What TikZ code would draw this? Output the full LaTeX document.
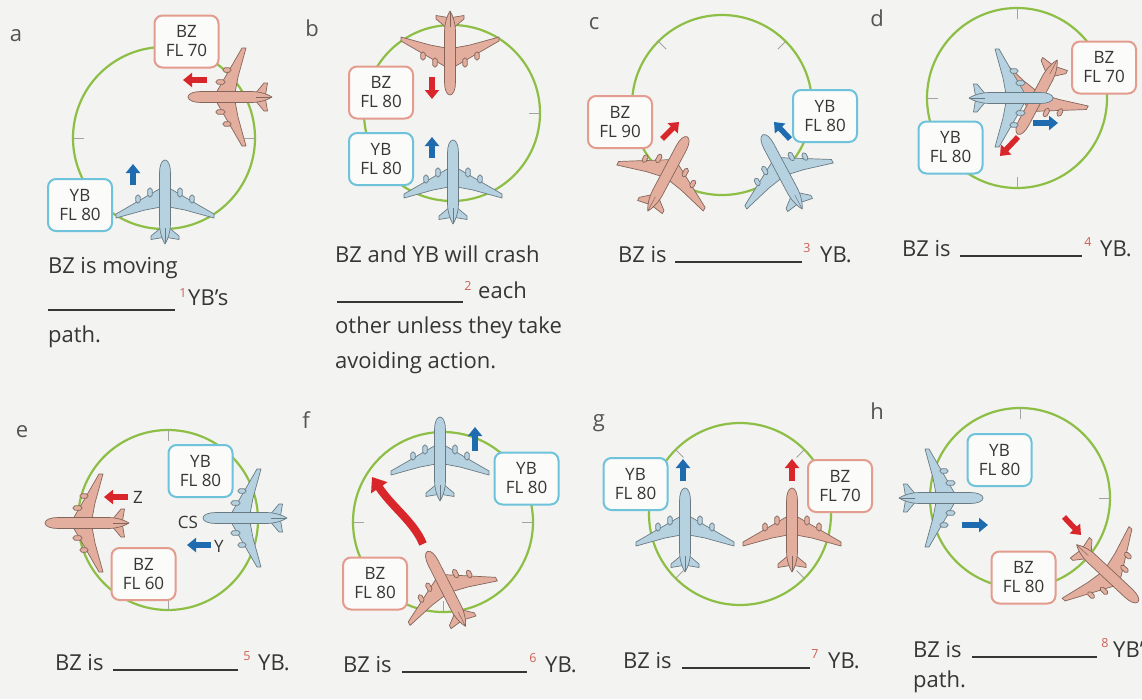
\documentclass[tikz,border=0pt]{standalone}
\usepackage{fontspec}
\setmainfont{Open Sans}
\usetikzlibrary{arrows.meta}

\definecolor{bg}{HTML}{F3F3F1}
\definecolor{ring}{HTML}{8DBE45}
\definecolor{tickc}{HTML}{A3A3A0}
\definecolor{ybfill}{HTML}{B6D2E1}
\definecolor{bzfill}{HTML}{E3AE9D}
\definecolor{ybline}{HTML}{6EC3DA}
\definecolor{bzline}{HTML}{E39C8D}
\definecolor{arrred}{HTML}{D8262B}
\definecolor{arrblue}{HTML}{1F6BAF}
\definecolor{txtc}{HTML}{363636}
\definecolor{supc}{HTML}{CF5F55}
\definecolor{boxfill}{HTML}{FBFBFA}

\newcommand\bodyfont{\fontsize{22}{26}\selectfont}
\newcommand\boxfont{\fontsize{17}{19}\selectfont}
\newcommand\supfont{\fontsize{12.5}{13}\selectfont}

\tikzset{
  x=1pt, y=-1pt,
  pl/.style={fill=#1, draw=#1!58!black, line width=0.7pt, line join=round},
  pics/plane/.style={code={
    \foreach \s in {1,-1}{
      \begin{scope}[xscale=\s]
        % swept wing
        \path[pl=#1] (4,-13) -- (49,13) -- (49,17) -- (20,9) -- (4,6) -- cycle;
        % engines
        \path[pl=#1, rounded corners=1.8pt] (12.8,-13) rectangle (17.2,-4);
        \path[pl=#1, rounded corners=1.8pt] (24.8,-6) rectangle (29.2,2);
        % tailplane
        \path[pl=#1] (2,25) -- (14,35) -- (14,38.5) -- (2,36.5) -- cycle;
      \end{scope}
    }
    % fuselage
    \path[pl=#1] (0,-41) .. controls (3.5,-41) and (5.5,-35) .. (5.5,-28)
      -- (5.5,22) .. controls (5.5,32) and (2,40) .. (0,43)
      .. controls (-2,40) and (-5.5,32) .. (-5.5,22)
      -- (-5.5,-28) .. controls (-5.5,-35) and (-3.5,-41) .. (0,-41) -- cycle;
    \draw[#1!58!black, line width=0.5pt] (0,27) -- (0,42);
  }},
  ringc/.style={draw=ring, line width=2.2pt},
  tick/.style={draw=tickc, line width=1pt},
  tag/.style={draw=#1, line width=2pt, rounded corners=8pt, fill=boxfill,
    minimum width=64pt, minimum height=52pt, align=center, font=\boxfont,
    text=txtc, inner sep=0pt},
  barrow/.style={draw=#1, line width=5.5pt, -{Triangle[width=14pt,length=9pt]}},
  words/.style={font=\bodyfont, text=txtc, inner sep=0pt, anchor=base west},
  letter/.style={font=\bodyfont, text=txtc!85, inner sep=0pt},
  sup/.style={font=\supfont, text=supc, inner sep=0pt},
  blank/.style={draw=txtc, line width=1.1pt},
}

\begin{document}
\begin{tikzpicture}
\useasboundingbox (0,0) rectangle (1142,699);
\clip (0,0) rectangle (1142,699);
\fill[bg] (0,0) rectangle (1142,699);

% ---------- radar rings ----------
\draw[ringc] (164,138) circle[radius=91];
\foreach \a in {0,90,180,270} \draw[tick, shift={(164,138)}] (\a:80) -- (\a:91);
\draw[ringc] (452,113) circle[radius=88];
\foreach \a in {0,90,180,270} \draw[tick, shift={(452,113)}] (\a:77) -- (\a:88);
\draw[ringc] (722,105) circle[radius=90];
\foreach \a in {45,135,225,315} \draw[tick, shift={(722,105)}] (\a:79) -- (\a:90);
\draw[ringc] (1017,98) circle[radius=90];
\foreach \a in {90,180,270} \draw[tick, shift={(1017,98)}] (\a:79) -- (\a:90);
\draw[ringc] (168,520) circle[radius=90];
\foreach \a in {90,270} \draw[tick, shift={(168,520)}] (\a:79) -- (\a:90);
\draw[ringc] (443,522) circle[radius=90];
\foreach \a in {0,90,180,270} \draw[tick, shift={(443,522)}] (\a:79) -- (\a:90);
\draw[ringc] (740,514) circle[radius=91];
\foreach \a in {45,135,225,315} \draw[tick, shift={(740,514)}] (\a:80) -- (\a:91);
\draw[ringc] (1020,498) circle[radius=90];
\foreach \a in {0,90,180,270} \draw[tick, shift={(1020,498)}] (\a:79) -- (\a:90);

% ---------- aircraft ----------
\pic[rotate=90] at (229,97) {plane=bzfill};
\pic at (165,201) {plane=ybfill};
\pic[rotate=180] at (450,54) {plane=bzfill};
\pic at (453,181) {plane=ybfill};
\pic[rotate=-28] at (668,173) {plane=bzfill};
\pic[rotate=28] at (782,171) {plane=ybfill};
\pic[rotate=152] at (1037,98) {plane=bzfill};
\pic[rotate=-90] at (1012,98) {plane=ybfill};
\pic[rotate=90] at (86,523) {plane=bzfill};
\pic[rotate=90] at (244,518) {plane=ybfill};
\pic at (440,458) {plane=ybfill};
\pic[rotate=27] at (446,588) {plane=bzfill};
\pic at (685,529) {plane=ybfill};
\pic at (792,529) {plane=bzfill};
\pic[rotate=-90] at (942,498) {plane=ybfill};
\pic[rotate=-133] at (1108,574) {plane=bzfill};

% ---------- flight tags ----------
\node[tag=bzline] (aBZ) at (186.5,41.5) {BZ\\FL 70};
\node[tag=ybline] (aYB) at (80,205) {YB\\FL 80};
\node[tag=bzline] (bBZ) at (381,92.5) {BZ\\FL 80};
\node[tag=ybline] (bYB) at (381,159) {YB\\FL 80};
\node[tag=bzline] (cBZ) at (620,122) {BZ\\FL 90};
\node[tag=ybline] (cYB) at (825,116) {YB\\FL 80};
\node[tag=bzline] (dBZ) at (1104,67.5) {BZ\\FL 70};
\node[tag=ybline] (dYB) at (950.5,147.5) {YB\\FL 80};
\node[tag=ybline] (eYB) at (200.5,471) {YB\\FL 80};
\node[tag=bzline] (eBZ) at (143.5,574) {BZ\\FL 60};
\node[tag=ybline] (fYB) at (526.5,478.5) {YB\\FL 80};
\node[tag=bzline] (fBZ) at (375,583.5) {BZ\\FL 80};
\node[tag=ybline] (gYB) at (635.5,484) {YB\\FL 80};
\node[tag=bzline] (gBZ) at (840,486) {BZ\\FL 70};
\node[tag=ybline] (hYB) at (999.5,460) {YB\\FL 80};
\node[tag=bzline] (hBZ) at (1023.5,577.5) {BZ\\FL 80};

% ---------- heading arrows ----------
\draw[barrow=arrred] (207,80) -- (183,80);
\draw[barrow=arrblue] (133,185) -- (133,164);
\draw[barrow=arrred] (432,77) -- (432,99);
\draw[barrow=arrblue] (432,158) -- (432,137);
\draw[barrow=arrred] (662,139) -- (679,122);
\draw[barrow=arrblue] (790,139) -- (774,122);
\draw[barrow=arrblue] (1033,123) -- (1058,123);
\draw[barrow=arrred] (1018,137) -- (1000,156);
\draw[barrow=arrred] (128,497) -- (104,497);
\draw[barrow=arrblue] (211,545) -- (187,545);
\draw[barrow=arrblue] (475,451) -- (475,427);
\draw[draw=arrred, line width=8pt, -{Triangle[width=19pt,length=13pt]}]
  (423,544) .. controls (414,522) and (393,508) .. (372,477);
\draw[barrow=arrblue] (683,481) -- (683,459);
\draw[barrow=arrred] (792,481) -- (792,459);
\draw[barrow=arrblue] (962,525) -- (988,525);
\draw[barrow=arrred] (1064,517) -- (1081,535);

\node[font=\boxfont, text=txtc, inner sep=0pt] (eZ) at (138,497) {Z};
\node[font=\boxfont, text=txtc, inner sep=0pt] (eY) at (219,546) {Y};
\node[font=\boxfont, text=txtc, inner sep=0pt] (eCS) at (188,522) {CS};

% ---------- panel letters ----------
\node[letter] (la) at (16,36) {a};
\node[letter] (lb) at (312,28) {b};
\node[letter] (lc) at (594,24) {c};
\node[letter] (ld) at (877,18) {d};
\node[letter] (le) at (22,432) {e};
\node[letter] (lf) at (306,420) {f};
\node[letter] (lg) at (599,423) {g};
\node[letter] (lh) at (877,411) {h};

% ---------- sentences ----------
\node[words] (ta1) at (48,273) {BZ is moving};
\draw[blank] (48,310) -- (175,310);
\node[sup] (sa) at (183,293) {1};
\node[words] (ta2) at (188,305) {YB’s};
\node[words] (ta3) at (48,342) {path.};

\node[words] (tb1) at (335,262) {BZ and YB will crash};
\draw[blank] (337,302) -- (463,302);
\node[sup] (sb) at (468,286) {2};
\node[words] (tb2) at (478,298) {each};
\node[words] (tb3) at (335,333) {other unless they take};
\node[words] (tb4) at (335,368) {avoiding action.};

\node[words] (tc1) at (618,262) {BZ is};
\draw[blank] (675,262) -- (802,262);
\node[sup] (sc) at (807,248) {3};
\node[words] (tc2) at (820,262) {YB.};

\node[words] (td1) at (902,256) {BZ is};
\draw[blank] (960,256) -- (1082,256);
\node[sup] (sd) at (1088,242) {4};
\node[words] (td2) at (1100,256) {YB.};

\node[words] (te1) at (55,670) {BZ is};
\draw[blank] (113,670) -- (238,670);
\node[sup] (se) at (247,656) {5};
\node[words] (te2) at (258,670) {YB.};

\node[words] (tf1) at (343,672) {BZ is};
\draw[blank] (402,672) -- (527,672);
\node[sup] (sf) at (533,658) {6};
\node[words] (tf2) at (545,672) {YB.};

\node[words] (tg1) at (623,668) {BZ is};
\draw[blank] (682,668) -- (810,668);
\node[sup] (sg) at (815,654) {7};
\node[words] (tg2) at (828,668) {YB.};

\node[words] (th1) at (913,657) {BZ is};
\draw[blank] (972,657) -- (1097,657);
\node[sup] (sh) at (1105,643) {8};
\node[words] (th2) at (1113,657) {YB’s};
\node[words] (th3) at (913,687) {path.};
\end{tikzpicture}
\end{document}
